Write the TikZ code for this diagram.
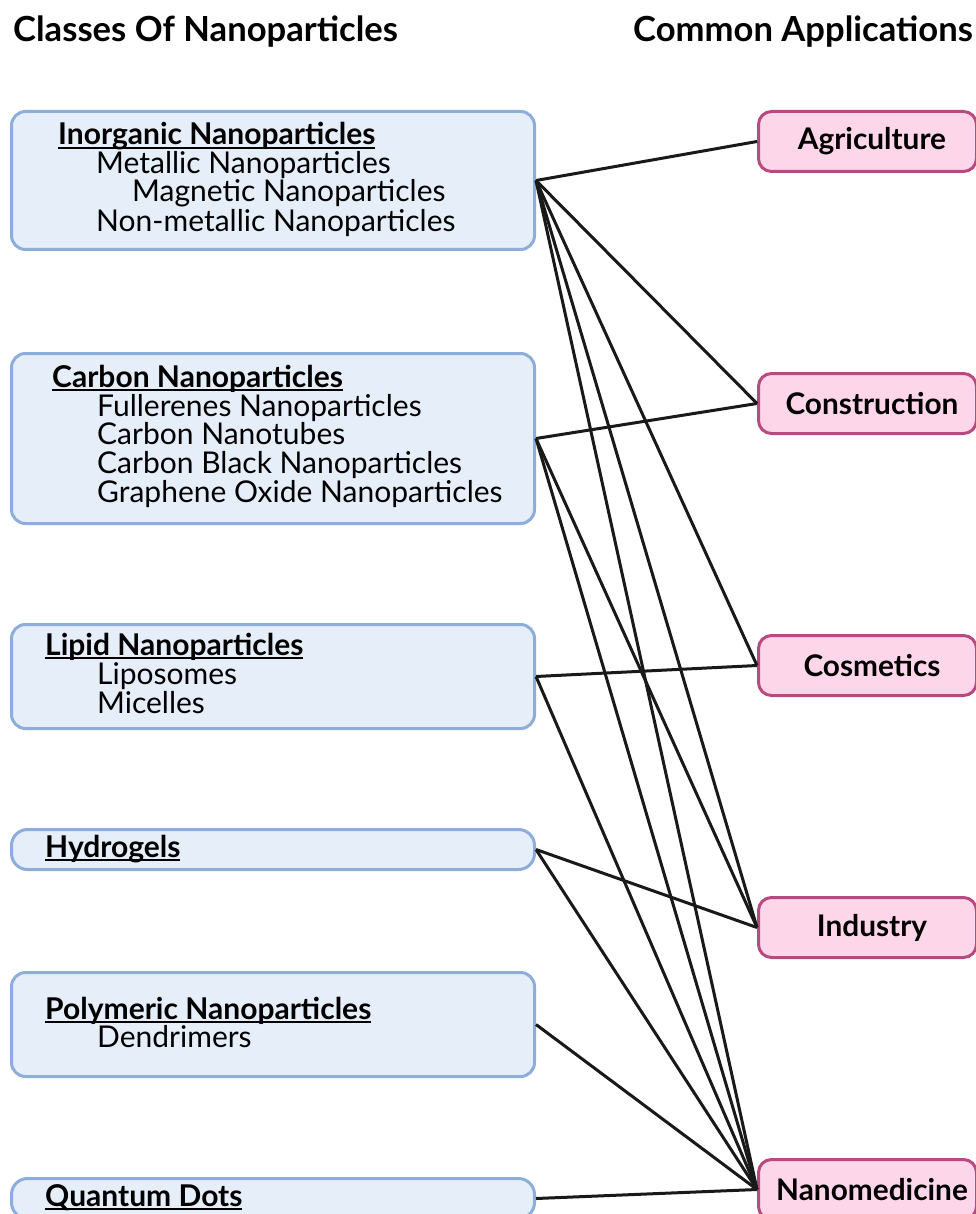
\documentclass[tikz,border=0pt]{standalone}
\usepackage{fontspec}
\setmainfont{Lato}
\definecolor{lfill}{HTML}{E6EEFA}
\definecolor{ldraw}{HTML}{8DAEDB}
\definecolor{rfill}{HTML}{FDD6EA}
\definecolor{rdraw}{HTML}{B94A7F}
\newcommand{\hdu}[1]{\setbox0\hbox{#1}\rlap{\rule[-3.8pt]{\wd0}{2pt}}\box0}
\begin{document}
\begin{tikzpicture}[x=1pt,y=-1pt,
  lbox/.style={draw=ldraw, fill=lfill, line width=3pt, rounded corners=14pt, inner sep=0pt, anchor=north west, minimum width=523pt},
  rbox/.style={draw=rdraw, fill=rfill, line width=3pt, rounded corners=13pt, inner sep=0pt, anchor=north west, minimum width=218pt, minimum height=60pt, font=\fontsize{29.8}{31}\selectfont\bfseries, execute at begin node={\hspace*{9pt}}},
  item/.style={anchor=base west, inner sep=0pt, font=\fontsize{30}{32}\selectfont},
  head/.style={item, font=\fontsize{30}{32}\selectfont\bfseries},
  ttl/.style={anchor=base west, inner sep=0pt, font=\fontsize{34.6}{36}\selectfont\bfseries},
  link/.style={line width=3pt, black!90}]
\useasboundingbox (0,0) rectangle (976,1214);
\fill[white] (0,0) rectangle (976,1214);
% titles
\node[ttl] (t1) at (13,42) {Classes Of Nanoparticles};
\node[ttl] (t2) at (633,42) {Common Applications};
% left boxes
\node[lbox, minimum height=138pt] (inorg) at (10,110) {};
\node[lbox, minimum height=170pt] (carbon) at (10,352) {};
\node[lbox, minimum height=104pt] (lipid) at (10,623) {};
\node[lbox, minimum height=40pt, rounded corners=16pt] (hydro) at (10,828) {};
\node[lbox, minimum height=104pt] (poly) at (10,971) {};
\node[lbox, minimum height=40pt, rounded corners=16pt] (qd) at (10,1177) {};
% right boxes
\node[rbox] (agri) at (757,110) {Agriculture};
\node[rbox] (cons) at (757,372) {Construction};
\node[rbox] (cosm) at (757,634) {Cosmetics};
\node[rbox] (ind) at (757,896) {Industry};
\node[rbox] (nano) at (757,1158) {Nanomedicine};
% connectors
\draw[link] (inorg.east) -- (agri.west);
\draw[link] (inorg.east) -- (cons.west);
\draw[link] (inorg.east) -- (cosm.west);
\draw[link] (inorg.east) -- (ind.west);
\draw[link] (inorg.east) -- (nano.west);
\draw[link] (carbon.east) -- (cons.west);
\draw[link] (carbon.east) -- (ind.west);
\draw[link] (carbon.east) -- (nano.west);
\draw[link] (lipid.east) -- (cosm.west);
\draw[link] (lipid.east) -- (nano.west);
\draw[link] (hydro.east) -- (ind.west);
\draw[link] (hydro.east) -- (nano.west);
\draw[link] (poly.east) -- (nano.west);
\draw[link] (qd.east) -- (nano.west);
% texts
\node[head] (h1) at (58,145) {\hdu{Inorganic Nanoparticles}};
\node[item] (i11) at (96,174) {Metallic Nanoparticles};
\node[item] (i12) at (132,202) {Magnetic Nanoparticles};
\node[item] (i13) at (96,232) {Non-metallic Nanoparticles};
\node[head] (h2) at (52,387) {\hdu{Carbon Nanoparticles}};
\node[item] (i21) at (97,416) {Fullerenes Nanoparticles};
\node[item] (i22) at (97,444) {Carbon Nanotubes};
\node[item] (i23) at (97,473) {Carbon Black Nanoparticles};
\node[item] (i24) at (97,502) {Graphene Oxide Nanoparticles};
\node[head] (h3) at (45,655) {\hdu{Lipid Nanoparticles}};
\node[item] (i31) at (97,684) {Liposomes};
\node[item] (i32) at (97,713) {Micelles};
\node[head] (h4) at (45,857) {\hdu{Hydrogels}};
\node[head] (h5) at (45,1019) {\hdu{Polymeric Nanoparticles}};
\node[item] (i51) at (97,1047) {Dendrimers};
\node[head] (h6) at (45,1206) {\hdu{Quantum Dots}};
\end{tikzpicture}
\end{document}
